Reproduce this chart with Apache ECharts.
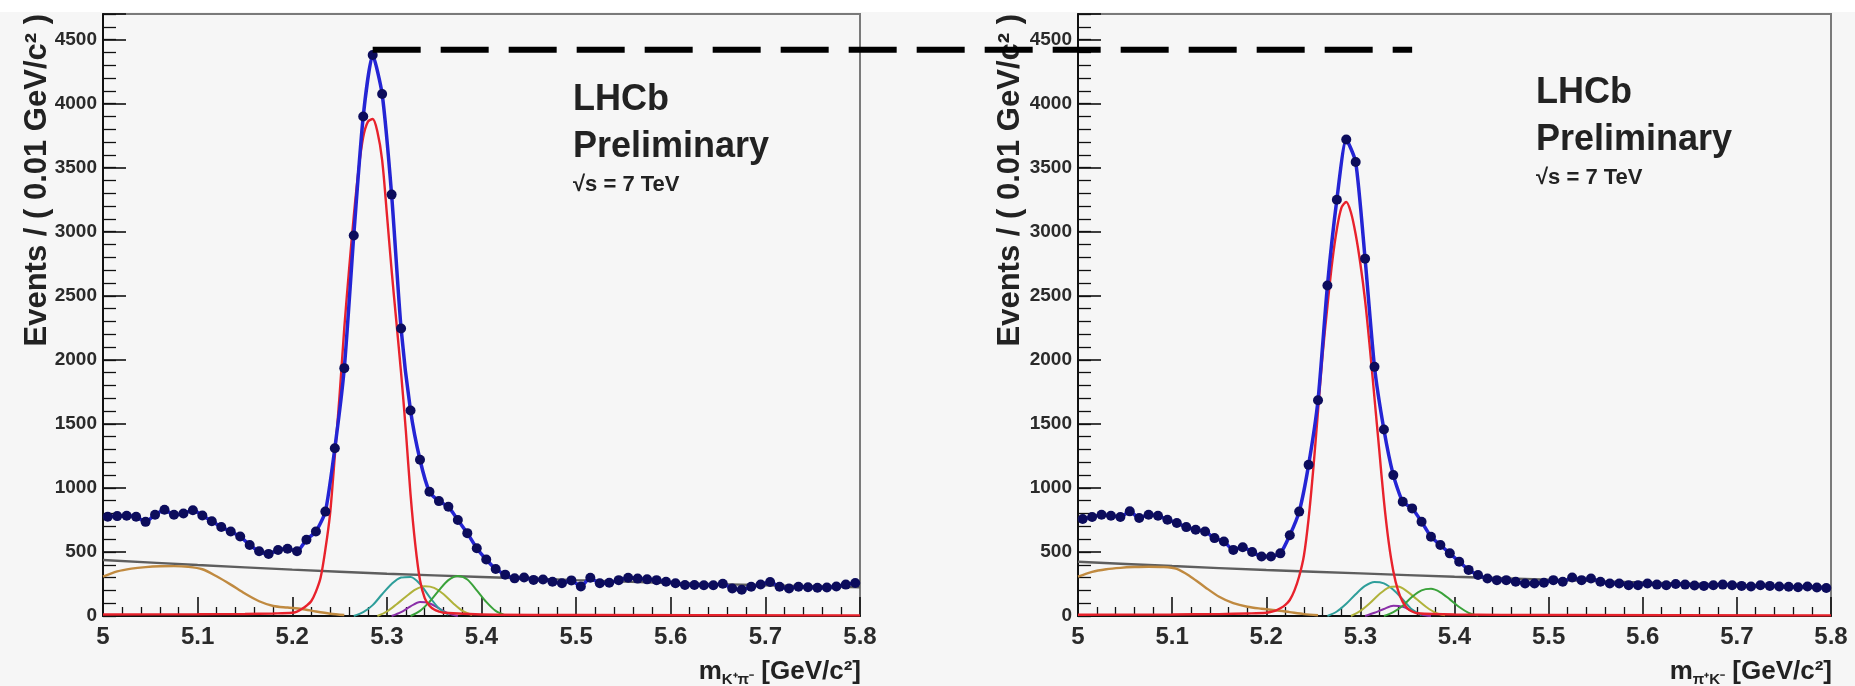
<!DOCTYPE html>
<html><head><meta charset="utf-8">
<script src="https://cdn.jsdelivr.net/npm/echarts@6/dist/echarts.min.js"></script>
<style>html,body{margin:0;padding:0;background:#f6f6f6;} #c{width:1855px;height:686px;}</style>
</head><body><div id="c"></div><script>
// ---------- data ----------
const massMin = 5.0, massMax = 5.8, binWidth = 0.01;
const xTickLabels = ['5','5.1','5.2','5.3','5.4','5.5','5.6','5.7','5.8'];

// events per bin (80 bins of 0.01 GeV/c^2, 5.00-5.80)
const countsLeft = [775,780,782,775,735,790,830,790,800,825,
  785,740,695,660,620,555,505,485,515,525,
  505,595,660,815,1310,1935,2970,3900,4380,4075,
  3290,2245,1605,1220,970,897,853,750,647,529,
  441,367,323,294,300,282,285,268,255,278,
  230,298,255,260,280,298,292,286,280,268,
  255,242,242,240,240,252,215,205,228,246,
  265,228,215,228,225,220,222,230,245,258];
const countsRight = [757,773,791,783,773,817,765,791,783,752,
  726,694,673,660,608,582,516,537,500,465,
  465,489,630,815,1180,1685,2580,3250,3720,3545,
  2790,1945,1456,1100,892,840,736,619,554,489,
  424,360,320,293,280,280,267,254,254,259,
  280,267,300,280,293,267,254,254,241,241,
  254,245,240,250,245,238,235,240,245,240,
  235,230,240,235,230,228,225,230,222,218];

// fit components (mass, value)
const sigLeftM = [5.0,5.1,5.15,5.18,5.2,5.205,5.21,5.215,5.22,5.225,5.23,5.235,5.24,5.245,5.25,5.255,5.26,5.265,5.27,5.275,5.28,5.285,
  5.29,5.295,5.3,5.305,5.31,5.315,5.32,5.325,5.33,5.335,5.34,5.345,5.35,5.355,5.36,5.4,5.5,5.8];
const sigLeftV = [12,14,16,20,25,35,55,80,115,190,300,520,800,1250,1720,2250,2700,3120,3480,3740,3860,3880,
  3780,3560,3140,2700,2300,1900,1450,950,560,280,140,80,50,35,25,12,8,5];
const sigRightM = [5.0,5.1,5.15,5.18,5.2,5.205,5.21,5.215,5.22,5.225,5.23,5.235,5.24,5.245,5.25,5.255,5.26,5.265,5.27,5.275,5.28,5.285,
  5.29,5.295,5.3,5.305,5.31,5.315,5.32,5.325,5.33,5.335,5.34,5.345,5.35,5.355,5.36,5.4,5.5,5.8];
const sigRightV = [10,12,15,20,25,32,42,60,85,125,200,310,470,760,1150,1600,2050,2420,2760,3020,3190,3232,
  3150,2980,2750,2465,2100,1700,1300,900,580,350,200,110,60,35,22,12,8,5];

const combLeftM = [5.0,5.1,5.2,5.3,5.4,5.5,5.6,5.7,5.8];
const combLeftV = [437,398,362,330,305,280,258,240,225];
const combRightM = [5.0,5.1,5.2,5.3,5.4,5.5,5.6,5.7,5.8];
const combRightV = [424,390,359,333,306,283,262,243,226];

const partLeftM = [5.0,5.015,5.03,5.045,5.06,5.075,5.09,5.105,5.12,5.135,5.15,5.165,5.18,5.195,5.21,5.225,5.24,5.255];
const partLeftV = [307,348,370,382,388,389,384,365,310,245,175,115,78,66,55,35,18,8];
const partRightM = [5.0,5.015,5.03,5.045,5.06,5.075,5.09,5.105,5.12,5.135,5.15,5.165,5.18,5.195,5.21,5.225,5.24,5.255];
const partRightV = [307,345,365,376,382,385,383,368,305,225,150,100,72,57,45,30,15,6];

const cyanLeftM = [5.265,5.275,5.285,5.295,5.305,5.315,5.325,5.335,5.345,5.355,5.365];
const cyanLeftV = [0,30,85,170,250,300,305,250,150,60,10];
const cyanRightM = [5.265,5.275,5.285,5.295,5.305,5.315,5.325,5.335,5.345,5.355,5.365];
const cyanRightV = [0,35,95,170,235,266,255,205,130,50,8];

const oliveLeftM = [5.29,5.3,5.31,5.32,5.33,5.34,5.35,5.36,5.37,5.38,5.39];
const oliveLeftV = [0,35,90,150,205,232,220,170,100,40,8];
const oliveRightM = [5.29,5.3,5.31,5.32,5.33,5.34,5.35,5.36,5.37,5.38,5.39];
const oliveRightV = [0,40,100,170,222,230,190,130,70,25,5];

const greenLeftM = [5.325,5.335,5.345,5.355,5.365,5.375,5.385,5.395,5.405,5.415,5.425];
const greenLeftV = [0,40,110,200,280,312,285,200,110,40,5];
const greenRightM = [5.325,5.335,5.345,5.355,5.365,5.375,5.385,5.395,5.405,5.415,5.425];
const greenRightV = [0,30,80,150,200,212,185,130,70,25,3];

const purpLeftM = [5.305,5.315,5.325,5.335,5.345,5.355,5.365,5.375];
const purpLeftV = [0,30,75,110,100,60,20,0];
const purpRightM = [5.305,5.315,5.325,5.335,5.345,5.355,5.365,5.375];
const purpRightV = [0,25,55,80,72,40,12,0];

const refLevel = 4420;          // dashed guide line height
const refFromMass = 5.285;      // starts at left peak
const refToMass = 5.355;        // ends inside right panel

// ---------- chart ----------
const FONT = "'Liberation Sans', Arial, Helvetica, sans-serif";
const binCenters = countsLeft.map((_, i) => +(massMin + binWidth / 2 + i * binWidth).toFixed(3));
const zip = (xs, ys) => xs.map((x, i) => [x, ys[i]]);

function xAxisCfg(gi) {
  return {
    type: 'value', gridIndex: gi, min: massMin, max: massMax, interval: 0.1, position: 'bottom',
    axisLine: {show: true, onZero: false, lineStyle: {color: '#111', width: 2}},
    axisTick: {show: true, inside: true, length: 19, lineStyle: {color: '#111', width: 1.6}},
    minorTick: {show: true, splitNumber: 5, length: 9, lineStyle: {color: '#111', width: 1.3}},
    axisLabel: {show: true, margin: 9, fontSize: 24, fontWeight: 'bold', color: '#2a2a2a', fontFamily: FONT,
      formatter: v => xTickLabels[Math.round((v - massMin) * 10)] || ''},
    splitLine: {show: false}, minorSplitLine: {show: false}
  };
}
function yMajor(gi) {
  return {
    type: 'value', gridIndex: gi, min: 0, max: 4700, interval: 500, position: 'left',
    axisLine: {show: true, onZero: false, lineStyle: {color: '#111', width: 2}},
    axisTick: {show: true, inside: true, length: 23, lineStyle: {color: '#111', width: 1.6}},
    axisLabel: {show: true, margin: 6, fontSize: 19, fontWeight: 'bold', color: '#2a2a2a', fontFamily: FONT,
      formatter: v => (v % 500 === 0 ? String(v) : '')},
    splitLine: {show: false}
  };
}
function yMinor(gi) {
  return {
    type: 'value', gridIndex: gi, min: 0, max: 4700, interval: 100, position: 'left', offset: 0,
    axisLine: {show: false}, axisLabel: {show: false}, splitLine: {show: false},
    axisTick: {show: true, inside: true, length: 13, lineStyle: {color: '#111', width: 1.3}}
  };
}

function curve(xs, ys, color, xi, yi, width) {
  return {type: 'line', xAxisIndex: xi, yAxisIndex: yi, data: zip(xs, ys), showSymbol: false,
    smooth: 0.3, silent: true, lineStyle: {color: color, width: width || 2}, z: 2};
}
function dataSeries(counts, xi, yi) {
  return {type: 'line', xAxisIndex: xi, yAxisIndex: yi, data: zip(binCenters, counts),
    smooth: 0.2, symbol: 'circle', symbolSize: 10, showSymbol: true,
    itemStyle: {color: '#0c0c5c'}, lineStyle: {color: '#2424d4', width: 3.5}, z: 5, silent: true};
}

const series = [];
[[0, 0, {sig: [sigLeftM, sigLeftV], comb: [combLeftM, combLeftV], part: [partLeftM, partLeftV],
   cyan: [cyanLeftM, cyanLeftV], olive: [oliveLeftM, oliveLeftV], green: [greenLeftM, greenLeftV],
   purp: [purpLeftM, purpLeftV], counts: countsLeft}],
 [1, 2, {sig: [sigRightM, sigRightV], comb: [combRightM, combRightV], part: [partRightM, partRightV],
   cyan: [cyanRightM, cyanRightV], olive: [oliveRightM, oliveRightV], green: [greenRightM, greenRightV],
   purp: [purpRightM, purpRightV], counts: countsRight}]
].forEach(([xi, yi, d]) => {
  series.push(curve(d.comb[0], d.comb[1], '#5e5e5e', xi, yi, 2.4));
  series.push(curve(d.part[0], d.part[1], '#c08a40', xi, yi, 2.4));
  series.push(curve(d.purp[0], d.purp[1], '#8a2fa8', xi, yi, 2));
  series.push(curve(d.cyan[0], d.cyan[1], '#2e9e9a', xi, yi, 2));
  series.push(curve(d.olive[0], d.olive[1], '#b0b23a', xi, yi, 2));
  series.push(curve(d.green[0], d.green[1], '#3aa23a', xi, yi, 2));
  series.push(curve(d.sig[0], d.sig[1], '#e8222c', xi, yi, 2.4));
  series.push(dataSeries(d.counts, xi, yi));
});

const bold = {fontFamily: FONT, fontWeight: 'bold', fill: '#222'};
function yTitle(x) {
  return {type: 'text', x: x, y: 14, rotation: Math.PI / 2,
    style: Object.assign({text: 'Events / ( 0.01 GeV/c² )', fontSize: 31, align: 'right', verticalAlign: 'middle'}, bold)};
}
function xTitle(x, sub) {
  return {type: 'text', x: x, y: 672,
    style: {text: '{m|m}{s|' + sub + '}{m| [GeV/c²]}', align: 'right', verticalAlign: 'middle',
      rich: {m: {fontSize: 26, fontFamily: FONT, fontWeight: 'bold', fill: '#222', lineHeight: 30},
             s: {fontSize: 15, fontFamily: FONT, fontWeight: 'bold', fill: '#222', verticalAlign: 'bottom', lineHeight: 16}}}};
}
function lhcb(x, y) {
  return [
    {type: 'text', x: x, y: y, style: Object.assign({text: 'LHCb', fontSize: 36}, bold)},
    {type: 'text', x: x, y: y + 47, style: Object.assign({text: 'Preliminary', fontSize: 36}, bold)},
    {type: 'text', x: x, y: y + 92, style: Object.assign({text: '√s = 7 TeV', fontSize: 22}, bold)}
  ];
}
const graphics = [
  {type: 'rect', shape: {x: 0, y: 0, width: 1855, height: 12}, style: {fill: '#ffffff'}, z: -5},
  yTitle(37), yTitle(1010),
  xTitle(861, 'K⁺π⁻'), xTitle(1832, 'π⁺K⁻')
].concat(lhcb(573, 82), lhcb(1536, 75));

const chart = echarts.init(document.getElementById('c'), null, {renderer: 'canvas'});
chart.setOption({
  backgroundColor: '#f6f6f6',
  animation: false,
  grid: [
    {left: 103, top: 14, width: 757, height: 602, show: true, borderColor: '#7a7a7a', borderWidth: 2, backgroundColor: 'transparent'},
    {left: 1078, top: 14, width: 753, height: 602, show: true, borderColor: '#7a7a7a', borderWidth: 2, backgroundColor: 'transparent'}
  ],
  xAxis: [xAxisCfg(0), xAxisCfg(1)],
  yAxis: [yMajor(0), yMinor(0), yMajor(1), yMinor(1)],
  series: series,
  graphic: graphics
});

const p0 = chart.convertToPixel({xAxisIndex: 0, yAxisIndex: 0}, [refFromMass, refLevel]);
const p1 = chart.convertToPixel({xAxisIndex: 1, yAxisIndex: 2}, [refToMass, refLevel]);
chart.setOption({graphic: graphics.concat([{
  type: 'line', shape: {x1: p0[0], y1: p0[1], x2: p1[0], y2: p1[1]},
  style: {stroke: '#000', lineWidth: 6, lineDash: [48, 20]}, z: 10
}])});
</script></body></html>
